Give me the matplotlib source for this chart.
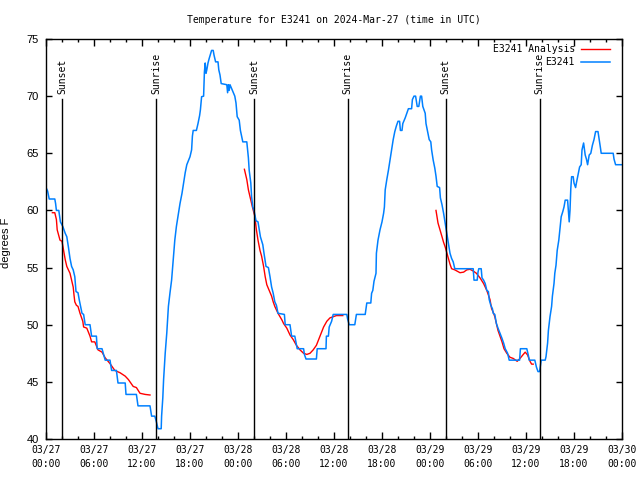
import datetime as dt
import matplotlib
matplotlib.use("Agg")
import matplotlib.pyplot as plt
import matplotlib.dates as mdates

title = "Temperature for E3241 on 2024-Mar-27 (time in UTC)"
start = dt.datetime(2024, 3, 27, 0, 0)

# observed temperature (hours after start, degrees F)
obs_hours = [0.0, 0.2, 0.4, 1.1, 1.2, 1.3, 1.6, 1.8, 2.1, 2.4, 2.6, 2.8, 3.0, 3.2, 3.4, 3.6, 3.75, 4.0, 4.15, 4.3,
             4.5, 4.7, 4.9, 5.5, 5.7, 6.3, 6.4, 7.0, 7.2, 7.4, 8.0, 8.2, 8.8, 9.0, 9.9, 10.0, 11.3, 11.5, 13.0, 13.2,
             13.6, 13.8, 14.0, 14.4, 14.45, 14.6, 14.7, 14.9, 15.1, 15.3, 15.5, 15.7, 15.9, 16.1, 16.3, 16.5, 16.75,
             17.0, 17.2, 17.4, 17.6, 18.0, 18.2, 18.3, 18.4, 18.8, 19.0, 19.2, 19.3, 19.45, 19.7, 19.8, 19.9, 20.0,
             20.1, 20.25, 20.4, 20.6, 20.7, 20.9, 21.0, 21.2, 21.5, 21.6, 21.75, 21.9, 22.6, 22.7, 22.8, 22.9, 23.0,
             23.3, 23.6, 23.75, 23.9, 24.15, 24.3, 24.6, 25.1, 25.3, 25.4, 25.6, 25.7, 25.85, 26.0, 26.25, 26.5,
             26.7, 26.8, 27.1, 27.25, 27.5, 27.8, 28.0, 28.2, 28.4, 28.6, 28.8, 29.0, 29.8, 29.9, 30.5, 30.7, 31.1,
             31.4, 32.2, 32.3, 32.5, 33.8, 33.9, 35.0, 35.05, 35.3, 35.4, 35.7, 35.9, 37.6, 37.7, 37.9, 38.6, 38.8,
             39.9, 40.1, 40.6, 40.7, 40.85, 41.0, 41.25, 41.3, 41.5, 41.75, 42.0, 42.2, 42.3, 42.4, 42.6, 42.8,
             43.0, 43.2, 43.4, 43.6, 43.8, 44.0, 44.2, 44.3, 44.5, 44.6, 44.9, 45.1, 45.3, 45.7, 45.8, 46.0, 46.2,
             46.4, 46.6, 46.8, 46.95, 47.1, 47.4, 47.5, 47.7, 47.9, 48.1, 48.2, 48.4, 48.6, 48.75, 48.9, 49.2,
             49.3, 49.5, 49.7, 49.9, 50.1, 50.3, 50.5, 50.7, 50.9, 51.1, 53.4, 53.5, 53.9, 54.0, 54.1, 54.4, 54.5,
             54.7, 54.9, 55.1, 55.3, 55.4, 55.6, 55.8, 55.9, 56.1, 56.3, 56.5, 56.75, 57.0, 57.2, 57.4, 57.7, 57.9,
             59.2, 59.3, 60.1, 60.3, 60.4, 61.1, 61.3, 61.5, 61.7, 61.9, 62.4, 62.5, 62.7, 62.8, 63.0, 63.2, 63.3,
             63.5, 63.6, 63.75, 63.9, 64.1, 64.25, 64.4, 64.6, 64.75, 64.9, 65.2, 65.3, 65.4, 65.5, 65.6, 65.7,
             65.9, 66.0, 66.2, 66.3, 66.5, 66.7, 66.9, 67.0, 67.2, 67.4, 67.55, 67.7, 67.9, 68.1, 68.3, 68.5, 68.7,
             69.0, 69.1, 69.3, 69.4, 70.9, 71.0, 71.2, 72.0]
obs_temp = [62.0, 61.7, 61.0, 61.0, 60.6, 60.0, 60.0, 59.0, 58.6, 58.0, 57.7, 56.8, 55.8, 55.1, 54.8, 54.2, 52.9, 52.8, 52.2, 51.7,
            51.0, 50.9, 50.0, 50.0, 49.0, 49.0, 47.9, 47.9, 47.4, 46.9, 46.9, 46.0, 46.0, 44.9, 44.9, 43.9, 43.9, 42.9, 42.9, 42.0,
            42.0, 41.5, 40.9, 40.9, 42.0, 43.6, 45.2, 47.5, 49.3, 51.6, 52.8, 53.9, 55.7, 57.4, 58.6, 59.5, 60.6,
            61.5, 62.4, 63.3, 64.0, 64.7, 65.3, 66.5, 67.0, 67.0, 67.6, 68.3, 68.8, 69.95, 70.0, 72.1, 72.9, 72.0,
            72.3, 72.9, 73.3, 73.75, 74.0, 74.0, 73.6, 73.0, 73.0, 72.3, 71.85, 71.1, 71.0, 70.3, 71.0, 70.5, 71.0,
            70.5, 70.0, 69.4, 68.2, 67.9, 67.0, 66.0, 66.0, 64.6, 63.5, 62.4, 61.2, 60.3, 60.0, 59.1, 59.0,
            58.1, 57.7, 57.0, 56.25, 55.1, 55.0, 54.2, 53.3, 52.75, 52.0, 51.7, 51.0, 50.9, 50.0, 50.0, 49.0, 49.0,
            47.9, 47.9, 47.4, 47.0, 47.0, 47.9, 47.9, 49.0, 49.0, 49.8, 50.3, 50.9, 50.9, 50.5, 50.0, 50.0, 50.9,
            50.9, 51.9, 51.9, 52.75, 53.0, 53.8, 54.5, 56.25, 57.4, 58.3, 59.0, 59.75, 60.3, 61.8, 62.7, 63.5,
            64.4, 65.3, 66.2, 66.9, 67.4, 67.8, 67.8, 67.0, 67.0, 67.6, 68.1, 68.5, 68.9, 68.9, 69.7, 70.0, 70.0,
            69.1, 69.1, 70.0, 70.0, 69.1, 68.5, 67.6, 66.9, 66.2, 66.0, 65.3, 64.4, 63.7, 63.0, 62.1, 62.0,
            61.1, 60.5, 59.75, 58.9, 58.0, 57.1, 56.25, 55.8, 55.5, 54.9, 54.9, 53.9, 53.9, 54.6, 54.9, 54.9, 54.1,
            53.9, 53.6, 53.0, 52.9, 52.2, 51.7, 51.4, 51.0, 50.9, 50.1, 49.7, 49.25, 48.8, 48.4, 47.9, 47.5, 46.9,
            46.9, 47.9, 47.9, 47.3, 46.9, 46.9, 46.3, 45.9, 45.9, 46.9, 46.9, 47.2, 48.4, 49.5, 50.7, 51.6, 52.5,
            53.6, 54.5, 55.2, 56.5, 57.4, 58.4, 59.45, 59.9, 60.3, 60.9, 60.9, 60.0, 59.0, 60.0, 61.9, 62.95,
            62.95, 62.4, 62.0, 62.4, 63.1, 63.8, 64.0, 65.3, 65.9, 64.85, 64.5, 64.0, 64.85, 65.0, 65.7, 66.2, 66.9,
            66.9, 66.45, 65.5, 65.0, 65.0, 64.5, 64.0, 64.0]

# analysis runs (hours after start, degrees F)
ana1_hours = [0.8, 1.1, 1.3, 1.4, 1.75, 2.0, 2.2, 2.4, 2.6, 2.8, 3.0, 3.2, 3.4, 3.5, 3.6, 3.8, 4.0, 4.25, 4.6, 4.7,
              5.1, 5.5, 5.7, 6.1, 6.5, 7.0, 7.4, 8.0, 8.6, 9.25, 9.9, 10.3, 10.9, 11.3, 11.75, 12.4, 13.0]
ana1_temp = [59.8, 59.8, 59.2, 58.3, 57.4, 57.3, 56.5, 55.7, 55.1, 54.8, 54.5, 53.9, 53.3, 52.6, 52.0, 51.7, 51.6, 51.0, 50.3, 49.8,
             49.7, 49.0, 48.5, 48.5, 47.8, 47.6, 47.1, 46.6, 46.0, 45.8, 45.5, 45.2, 44.6, 44.5, 44.0, 43.9, 43.85]
ana2_hours = [24.8, 25.1, 25.3, 25.6, 25.8, 26.1, 26.3, 26.5, 26.75, 26.95, 27.2, 27.4, 27.6, 27.9, 28.2, 28.4, 28.6,
              29.0, 29.5, 29.7, 30.1, 30.5, 30.9, 31.3, 31.75, 32.2, 32.6, 33.0, 33.4, 33.8, 34.25, 34.7, 35.1,
              35.5, 35.9, 36.3, 37.1]
ana2_temp = [63.6, 62.7, 61.8, 60.9, 60.3, 59.5, 58.3, 57.4, 56.5, 56.0, 55.1, 54.2, 53.5, 53.0, 52.5, 52.0, 51.6,
             51.0, 50.4, 50.1, 49.7, 49.1, 48.7, 48.2, 47.8, 47.5, 47.4, 47.5, 47.8, 48.2, 49.0, 49.8, 50.3,
             50.6, 50.7, 50.8, 50.8]
ana3_hours = [48.75, 49.0, 49.25, 49.5, 49.7, 49.9, 50.1, 50.3, 50.5, 50.7, 51.1, 51.75, 52.2, 52.6, 53.0, 53.4, 53.8,
              54.25, 54.7, 55.1, 55.5, 55.7, 55.9, 56.1, 56.3, 56.5, 56.75, 57.0, 57.25, 57.6, 58.0, 58.4, 58.9,
              59.25, 59.6, 59.9, 60.2, 60.5, 60.7, 60.9]
ana3_temp = [60.0, 58.9, 58.3, 57.7, 57.2, 56.8, 56.3, 55.8, 55.3, 54.9, 54.8, 54.55, 54.6, 54.8, 54.85, 54.7, 54.5,
             54.1, 53.6, 53.0, 52.2, 51.4, 51.1, 50.7, 50.1, 49.5, 49.0, 48.5, 47.9, 47.5, 47.15, 47.05, 46.8,
             47.05, 47.35, 47.6, 47.35, 46.8, 46.55, 46.55]

sun_events = ["Sunset", "Sunrise", "Sunset", "Sunrise", "Sunset", "Sunrise"]
sun_hours = [2.03, 13.8, 26.02, 37.7, 49.95, 61.7]

MONO = "DejaVu Sans Mono"
SANS = "Liberation Sans"
BLUE = "#0080ff"
RED = "#ff0000"


def to_time(hours):
    return [start + dt.timedelta(hours=h) for h in hours]


fig = plt.figure(figsize=(6.4, 4.8), dpi=100)
ax = fig.add_axes([46 / 640, 41 / 480, 576 / 640, 400 / 480])

first = True
for hrs, tmp in [(ana1_hours, ana1_temp), (ana2_hours, ana2_temp), (ana3_hours, ana3_temp)]:
    ax.plot(to_time(hrs), tmp, color=RED, lw=1.0, label="E3241 Analysis" if first else "_nolegend_")
    first = False
ax.plot(to_time(obs_hours), obs_temp, color=BLUE, lw=1.1, label="E3241")

for name, h in zip(sun_events, sun_hours):
    t = start + dt.timedelta(hours=h)
    ax.axvline(t, ymin=0, ymax=0.85, color="black", lw=1.0)
    ax.text(t, 0.8625, name, transform=ax.get_xaxis_transform(), rotation=90,
            ha="center", va="bottom", fontsize=7, family=MONO)

ax.set_xlim(start, start + dt.timedelta(hours=72))
ax.set_ylim(40, 75)
ax.set_yticks([40, 45, 50, 55, 60, 65, 70, 75])
ax.xaxis.set_major_locator(mdates.HourLocator(byhour=[0, 6, 12, 18]))
ax.xaxis.set_minor_locator(mdates.HourLocator(interval=2))
ax.xaxis.set_major_formatter(mdates.DateFormatter("%m/%d\n%H:%M"))

ax.tick_params(axis="both", which="both", direction="in", top=True, right=True, width=1, color="black")
ax.tick_params(axis="x", which="major", length=5, pad=4, labelsize=7)
ax.tick_params(axis="x", which="minor", length=2.5)
ax.tick_params(axis="y", which="major", length=4, pad=5, labelsize=8)
for lbl in ax.get_xticklabels():
    lbl.set_family(MONO)
for lbl in ax.get_yticklabels():
    lbl.set_family(SANS)
for sp in ax.spines.values():
    sp.set_linewidth(1.0)
    sp.set_color("black")

ax.set_ylabel("degrees F", fontsize=8, family=SANS)
ax.yaxis.set_label_coords(-35 / 576, 0.49)

fig.text(334 / 640, 1 - 20 / 480, title, ha="center", va="center", fontsize=7, family=MONO)

leg = ax.legend(loc="upper right", bbox_to_anchor=(1 - 12 / 576, 1 - 5 / 400), markerfirst=False, frameon=False,
                prop={"family": MONO, "size": 7}, handlelength=3.0, handletextpad=0.6,
                borderaxespad=0.0, borderpad=0.0, labelspacing=0.35)

fig.canvas.draw()
for lbl in ax.get_xticklabels():
    lbl.set_linespacing(1.6)

fig.savefig("out.png", dpi=100)
